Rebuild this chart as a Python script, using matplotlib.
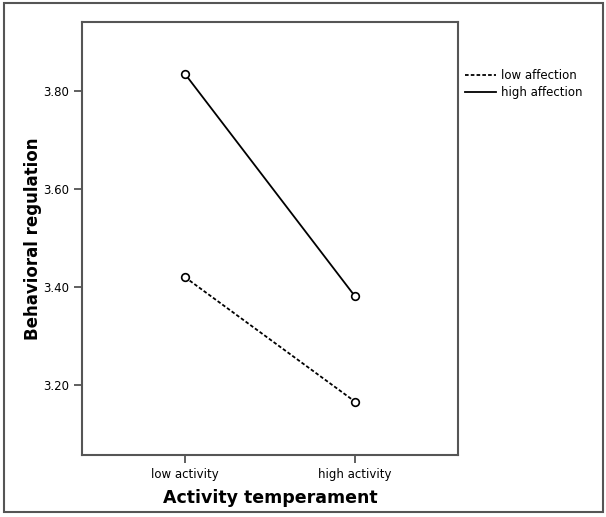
import matplotlib
matplotlib.use("Agg")
import matplotlib.pyplot as plt
from matplotlib.patches import Rectangle

# data
categories = ["low activity", "high activity"]
low_affection = [3.42, 3.166]
high_affection = [3.835, 3.381]
y_ticks = [3.20, 3.40, 3.60, 3.80]

fig = plt.figure(figsize=(6.06, 5.17), dpi=100)
ax = fig.add_axes([0.1353, 0.1199, 0.6205, 0.8375])

x = list(range(len(categories)))
ax.plot(x, low_affection, color="black", lw=1.3, ls=(0, (2, 1.2)),
        marker="o", ms=5.5, mfc="white", mec="black", mew=1.2, label="low affection")
ax.plot(x, high_affection, color="black", lw=1.3,
        marker="o", ms=5.5, mfc="white", mec="black", mew=1.2, label="high affection")

ax.set_xlim(-0.606, 1.606)
ax.set_ylim(3.057, 3.941)
ax.set_xticks(x)
ax.set_xticklabels(categories, fontsize=8.5)
ax.set_yticks(y_ticks)
ax.set_yticklabels(["%.2f" % v for v in y_ticks], fontsize=8.5)
ax.tick_params(color="#444444", length=6, width=1.2, pad=3)

for s in ax.spines.values():
  s.set_color("#555555")
  s.set_linewidth(1.5)

ax.set_xlabel("Activity temperament", fontsize=12.5, fontweight="bold", labelpad=6)
ax.set_ylabel("Behavioral regulation", fontsize=12, fontweight="bold", labelpad=1)

fig.legend(loc="upper left", bbox_to_anchor=(0.76, 0.875), frameon=False,
           fontsize=8.5, handlelength=2.6, handletextpad=0.4, labelspacing=0.3,
           markerscale=0, borderaxespad=0)

# outer border around the figure
fig.patches.append(Rectangle((0.007, 0.01), 0.988, 0.984, transform=fig.transFigure,
                             fill=False, edgecolor="#555555", lw=1.5))

fig.savefig("out.png", dpi=100)
